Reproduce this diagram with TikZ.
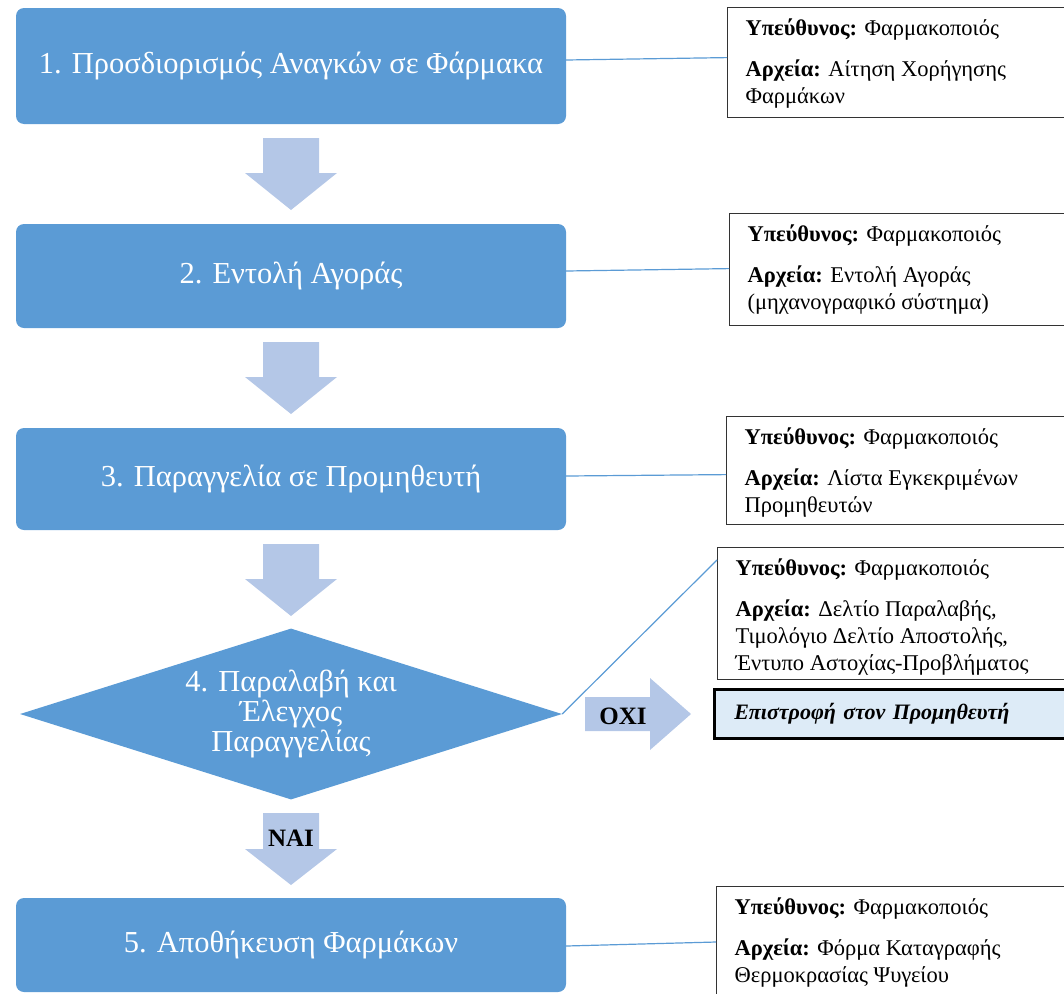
\documentclass[tikz,border=0pt]{standalone}
\usepackage{fontspec}
\setmainfont{Liberation Serif}
\usetikzlibrary{shapes.geometric,calc}
\definecolor{stepblue}{HTML}{5B9BD5}
\definecolor{arrowblue}{HTML}{B4C7E7}
\definecolor{paleblue}{HTML}{DDEBF7}
\newcommand\mainfs{\fontsize{30.5}{30}\selectfont}
\newcommand\infofs{\fontsize{22.5}{27}\selectfont}
\newcommand\labelfs{\fontsize{25}{26}\selectfont}
% text of a responsibility box: #1 archive list, #2 box height
\newcommand\infotext[2]{%
  \begin{minipage}[t][#2][t]{330pt}%
    \rule{0pt}{28pt}\textbf{Υπεύθυνος:} Φαρμακοποιός\par\vspace{14pt}%
    \textbf{Αρχεία:} #1%
  \end{minipage}}
% wide down-pointing block arrow: #1 shaft top, #2 head base, #3 tip
\newcommand\downblock[3]{%
  \fill[arrowblue] (263,#1) -- (319,#1) -- (319,#2) -- (337,#2) -- (291,#3)
    -- (245,#2) -- (263,#2) -- cycle;}
\begin{document}
\begin{tikzpicture}[x=1pt,y=-1pt,
  stepbox/.style={fill=stepblue, rounded corners=8pt, minimum width=550pt,
    text=white, font=\mainfs, inner sep=0pt},
  infobox/.style={draw=black!80, line width=1.2pt, fill=white,
    anchor=north west, inner xsep=18pt, inner ysep=0pt, font=\infofs},
  link/.style={draw=stepblue, line width=1.2pt},
  answer/.style={font=\labelfs\bfseries, text=black, inner sep=0pt}]
\useasboundingbox (0,0) rectangle (1064,993);
\clip (0,0) rectangle (1064,993);

% process steps
\node[stepbox, minimum height=116pt] (b1) at (291,66)
  {1. Προσδιορισμός Αναγκών σε Φάρμακα};
\node[stepbox, minimum height=104pt] (b2) at (291,276) {2. Εντολή Αγοράς};
\node[stepbox, minimum height=102pt] (b3) at (291,479)
  {3. Παραγγελία σε Προμηθευτή};
\node[shape=diamond, fill=stepblue, minimum width=542pt, minimum height=171pt,
  aspect=3.17, inner sep=0pt, text=white, align=center, font=\mainfs]
  (d4) at (291,714) {4. Παραλαβή και\\Έλεγχος\\Παραγγελίας};
\node[stepbox, minimum height=94pt] (b5) at (291,945)
  {5. Αποθήκευση Φαρμάκων};

% flow arrows
\downblock{138}{173}{210}
\downblock{342}{377}{414}
\downblock{544}{579}{616}
\downblock{813}{849}{885}
\fill[arrowblue] (585,697) -- (650,697) -- (650,678) -- (691,714)
  -- (650,750) -- (650,731) -- (585,731) -- cycle;
\node[answer] (nai) at (291,838) {ΝΑΙ};
\node[answer] (oxi) at (623,716) {ΟΧΙ};

% responsibility boxes
\node[infobox] (iA) at (727,7)
  {\infotext{Αίτηση Χορήγησης\newline Φαρμάκων}{110pt}};
\node[infobox] (iB) at (729,213)
  {\infotext{Εντολή Αγοράς\newline (μηχανογραφικό σύστημα)}{112pt}};
\node[infobox] (iC) at (726,416)
  {\infotext{Λίστα Εγκεκριμένων\newline Προμηθευτών}{108pt}};
\node[infobox] (iD) at (717,547)
  {\infotext{Δελτίο Παραλαβής,\newline Τιμολόγιο Δελτίο Αποστολής,\newline
   Έντυπο Αστοχίας-Προβλήματος}{132pt}};
\node[infobox] (iE) at (716,886)
  {\infotext{Φόρμα Καταγραφής\newline Θερμοκρασίας Ψυγείου}{130pt}};

% return to supplier
\node[draw=black, line width=2.6pt, fill=paleblue, anchor=north west,
  minimum height=49pt, text width=380pt, align=left, inner xsep=20pt,
  font=\fontsize{22}{26}\selectfont\bfseries\itshape] (ret) at (713,688)
  {Επιστροφή στον Προμηθευτή};

% links to the responsibility boxes
\draw[link] ([yshift=6pt]b1.east) -- ([yshift=5pt]iA.west);
\draw[link] ([yshift=5pt]b2.east) -- ([yshift=1pt]iB.west);
\draw[link] ([yshift=3pt]b3.east) -- ([yshift=-4pt]iC.west);
\draw[link] (d4.east) -- ([yshift=-13pt]iD.north west);
\draw[link] ([yshift=-1pt]b5.east) -- ([yshift=-56pt]iE.north west);
\end{tikzpicture}
\end{document}
